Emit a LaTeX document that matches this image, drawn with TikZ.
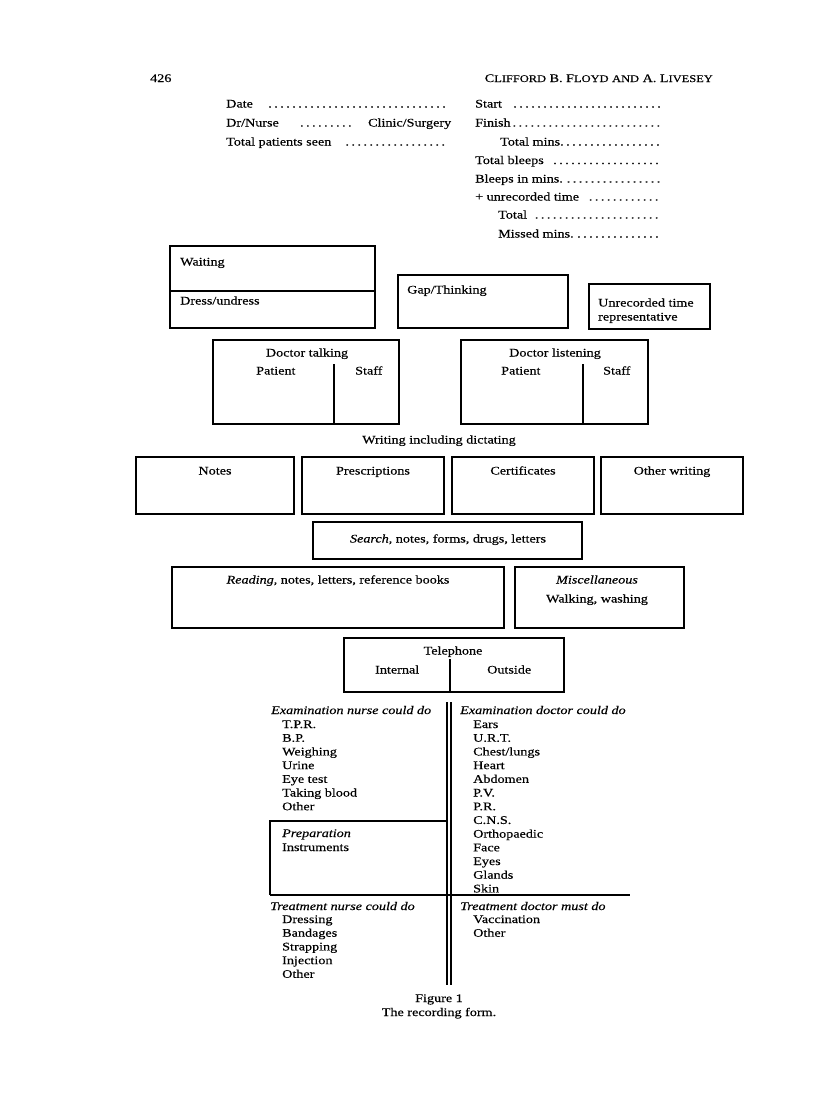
\documentclass[tikz,border=0pt]{standalone}
\usepackage{fontspec}
\setmainfont{Liberation Serif}[FakeStretch=1.22,FakeBold=0.35]
\newcommand\fsz{\fontsize{11.6}{13.7}\selectfont}
\newcommand\sct[1]{{\fontsize{10.2}{10}\selectfont #1}}
\newcommand\mydots{\leavevmode\cleaders\hbox to 6pt{\hss.\hss}\hfill\kern0pt}
\newcommand\dotsbox[1]{\hbox to #1{\mydots}}
\begin{document}
\begin{tikzpicture}[x=1pt,y=-1pt,
  every node/.style={inner sep=0pt, font=\fsz},
  frame/.style={line width=1.4pt},
  lt/.style={anchor=base west},
  ct/.style={anchor=base},
  rt/.style={anchor=base east}]
\useasboundingbox (0,0) rectangle (816,1101);
% running head
\node[lt] (page) at (150,82) {426};
\node[rt] (head) at (713,82) {C\sct{LIFFORD} B. F\sct{LOYD} \sct{AND} A. L\sct{IVESEY}};
% header fields left
\node[lt] (date) at (226,107.5) {\hbox to 223pt{Date\hspace{12pt}\mydots}};
\node[lt] (drn) at (226,126.5) {\hbox to 225pt{Dr/Nurse\hspace{18pt}\dotsbox{58pt}\hfill Clinic/Surgery}};
\node[lt] (tps) at (226,145.5) {\hbox to 223pt{Total patients seen\hspace{10pt}\mydots}};
% header fields right
\node[lt] (start) at (475,107.5) {\hbox to 187pt{Start\hspace{10pt}\mydots}};
\node[lt] (finish) at (475,126.5) {\hbox to 187pt{Finish\mydots}};
\node[lt] (tmins) at (500,145.5) {\hbox to 162pt{Total mins.\mydots}};
\node[lt] (tbl) at (475,164) {\hbox to 187pt{Total bleeps\hspace{6pt}\mydots}};
\node[lt] (bim) at (475,182.5) {\hbox to 187pt{Bleeps in mins.\hspace{2pt}\mydots}};
\node[lt] (unr) at (475,200.5) {\hbox to 187pt{+ unrecorded time\hspace{6pt}\mydots}};
\node[lt] (tot) at (498,218.5) {\hbox to 162pt{Total\hspace{6pt}\mydots}};
\node[lt] (mm) at (498,237.5) {\hbox to 162pt{Missed mins.\hspace{2pt}\mydots}};
% waiting / dress box
\draw[frame] (170,246) rectangle (375,328);
\draw[frame] (170,291) -- (375,291);
\node[lt] (wait) at (180,265.5) {Waiting};
\node[lt] (dress) at (180,304.5) {Dress/undress};
% gap
\draw[frame] (398,275) rectangle (568,328);
\node[lt] (gap) at (407,293.5) {Gap/Thinking};
% unrecorded
\draw[frame] (589,284) rectangle (710,329);
\node[lt] (unrec1) at (598,306.5) {Unrecorded time};
\node[lt] (unrec2) at (598,320.5) {representative};
% doctor talking
\draw[frame] (213,340) rectangle (399,424);
\draw[frame] (334,364) -- (334,424);
\node[ct] (dt) at (307,356.5) {Doctor talking};
\node[lt] (dtp) at (256,374.5) {Patient};
\node[lt] (dts) at (355,374.5) {Staff};
% doctor listening
\draw[frame] (461,340) rectangle (648,424);
\draw[frame] (583,364) -- (583,424);
\node[ct] (dl) at (555,356.5) {Doctor listening};
\node[lt] (dlp) at (501,374.5) {Patient};
\node[lt] (dls) at (603,374.5) {Staff};
% writing
\node[ct] (writ) at (439,443.5) {Writing including dictating};
\draw[frame] (136,457) rectangle (294,514);
\node[ct] (notes) at (215,474.5) {Notes};
\draw[frame] (302,457) rectangle (444,514);
\node[ct] (presc) at (373,474.5) {Prescriptions};
\draw[frame] (452,457) rectangle (594,514);
\node[ct] (cert) at (523,474.5) {Certificates};
\draw[frame] (601,457) rectangle (743,514);
\node[ct] (other) at (672,474.5) {Other writing};
% search
\draw[frame] (313,522) rectangle (582,559);
\node[ct] (search) at (448,542.5) {\textit{Search}, notes, forms, drugs, letters};
% reading
\draw[frame] (172,567) rectangle (504,628);
\node[ct] (read) at (338,583.5) {\textit{Reading}, notes, letters, reference books};
\draw[frame] (515,567) rectangle (684,628);
\node[ct] (misc) at (597,583.5) {\textit{Miscellaneous}};
\node[ct] (walk) at (597,602.5) {Walking, washing};
% telephone
\draw[frame] (344,638) rectangle (564,692);
\draw[frame] (450,659) -- (450,692);
\node[ct] (tel) at (453,654.5) {Telephone};
\node[lt] (int) at (375,673.5) {Internal};
\node[lt] (out) at (487,673.5) {Outside};
% examination / treatment grid
\draw[line width=1.2pt] (447,702) -- (447,985);
\draw[line width=1.2pt] (451,702) -- (451,985);
\draw[frame] (270,895) -- (630,895);
\draw[frame] (447,821) -- (270,821) -- (270,895);
\node[lt] (enc) at (271,714) {\textit{Examination nurse could do}};
\foreach \t [count=\i from 0] in {T.P.R.,B.P.,Weighing,Urine,Eye test,Taking blood,Other}
  \node[lt] (en\i) at (282,728+13.7*\i) {\t};
\node[lt] (prep) at (282,837) {\textit{Preparation}};
\node[lt] (instr) at (282,851) {Instruments};
\node[lt] (edc) at (460,714) {\textit{Examination doctor could do}};
\foreach \t [count=\i from 0] in {Ears,U.R.T.,Chest/lungs,Heart,Abdomen,P.V.,P.R.,C.N.S.,Orthopaedic,Face,Eyes,Glands,Skin}
  \node[lt] (ed\i) at (473,728+13.7*\i) {\t};
\node[lt] (tnc) at (270,910) {\textit{Treatment nurse could do}};
\foreach \t [count=\i from 0] in {Dressing,Bandages,Strapping,Injection,Other}
  \node[lt] (tn\i) at (282,923+13.7*\i) {\t};
\node[lt] (tdm) at (460,910) {\textit{Treatment doctor must do}};
\foreach \t [count=\i from 0] in {Vaccination,Other}
  \node[lt] (td\i) at (473,923+13.7*\i) {\t};
% caption
\node[ct] (fig) at (439,1002) {Figure 1};
\node[ct] (cap) at (439,1016) {The recording form.};
\end{tikzpicture}
\end{document}
